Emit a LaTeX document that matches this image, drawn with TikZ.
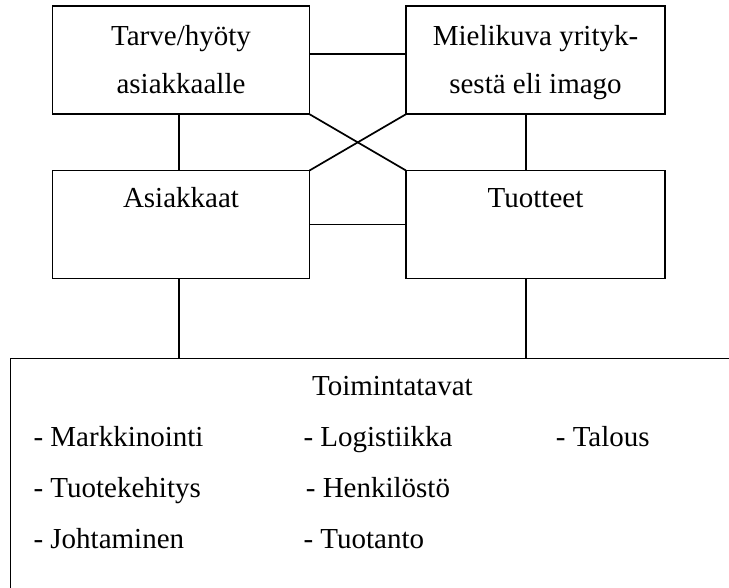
\documentclass[tikz,border=0pt]{standalone}
\usepackage{fontspec}
\setmainfont{Liberation Serif}
\begin{document}
\begin{tikzpicture}[x=1pt,y=-1pt,line width=1.7pt,
  box/.style={draw,outer sep=0pt,inner sep=0pt,minimum width=257pt,
    minimum height=108pt,align=center,font=\fontsize{29}{48}\selectfont},
  twoline/.style={text height=68pt,text depth=2.4pt},
  big/.style={font=\fontsize{29}{35}\selectfont},
  item/.style={big,anchor=base west,inner sep=0pt}]
\useasboundingbox (0,0) rectangle (729,587);
\clip (0,0) rectangle (729,587);
\node[box,twoline] (tarve) at (181,60.2) {Tarve/hyöty\\asiakkaalle};
\node[box,twoline,minimum width=259pt] (mieli) at (535.5,60.2)
  {Mielikuva yrityk-\\sestä eli imago};
\node[box,label={[big,anchor=base,yshift=-37.3pt]north:Asiakkaat}]
  (asiak) at (181,224.5) {};
\node[box,minimum width=259pt,label={[big,anchor=base,yshift=-37.3pt]north:Tuotteet}]
  (tuot) at (535.5,224.5) {};
\node[draw,outer sep=0pt,minimum width=780pt,minimum height=260pt,anchor=north west]
  (toim) at (10.5,358.5) {};
\draw ([yshift=5.9pt]tarve.east) -- ([yshift=5.9pt]mieli.west);
\draw ([xshift=-2pt]tarve.south) -- ([xshift=-2pt]asiak.north);
\draw ([xshift=-9.5pt]mieli.south) -- ([xshift=-9.5pt]tuot.north);
\draw (tarve.south east) -- (tuot.north west);
\draw (mieli.south west) -- (asiak.north east);
\draw (asiak.east) -- (tuot.west);
\draw ([xshift=-2pt]asiak.south) -- ([xshift=-2pt]asiak.south |- toim.north);
\draw ([xshift=-9.5pt]tuot.south) -- ([xshift=-9.5pt]tuot.south |- toim.north);
\node[big,anchor=base] (title) at (392.4,395.7) {Toimintatavat};
\node[item] (markk) at (32.7,446) {- Markkinointi};
\node[item] (logis) at (302.7,446) {- Logistiikka};
\node[item] (talous) at (555,446) {- Talous};
\node[item] (tuotek) at (32.7,497) {- Tuotekehitys};
\node[item] (henk) at (305,497) {- Henkilöstö};
\node[item] (johto) at (32.7,548) {- Johtaminen};
\node[item] (tuotanto) at (302.7,548) {- Tuotanto};
\end{tikzpicture}
\end{document}
